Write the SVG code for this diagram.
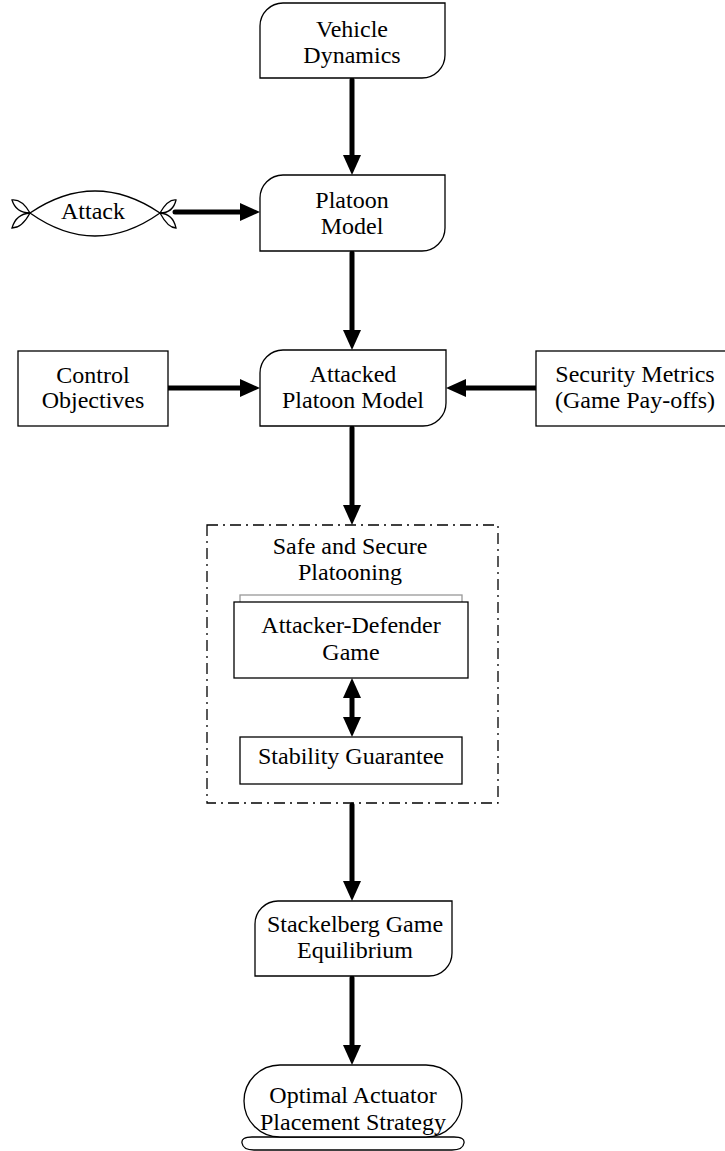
<svg xmlns="http://www.w3.org/2000/svg" width="725" height="1151" viewBox="0 0 725 1151" font-family="'Liberation Serif', 'Times New Roman', serif">
  <style>
    .box { fill: #fff; stroke: #000; stroke-width: 1.3; }
    .lbl { font-size: 24px; fill: #000; text-anchor: middle; }
    .wire { stroke: #000; stroke-width: 5; fill: none; stroke-linecap: round; }
    .frame { fill: none; stroke: #000; stroke-width: 1.3; stroke-dasharray: 11 5 2 5; }
  </style>
  <defs>
    <!-- arrowhead: tip sits 10px beyond the line end -->
    <marker id="head" markerUnits="userSpaceOnUse" markerWidth="20" markerHeight="18" refX="10" refY="9" orient="auto-start-reverse">
      <path d="M0,0 L20,9 L0,18 Z" fill="#000"/>
    </marker>
  </defs>
  <rect width="725" height="1151" fill="#fff"/>

  <!-- connectors -->
  <g id="connectors">
    <line class="wire" x1="352" y1="80" x2="352" y2="165" marker-end="url(#head)"/>
    <line class="wire" x1="352" y1="253" x2="352" y2="340" marker-end="url(#head)"/>
    <line class="wire" x1="175" y1="212" x2="250" y2="212" marker-end="url(#head)"/>
    <line class="wire" x1="168" y1="388" x2="250" y2="388" marker-end="url(#head)"/>
    <line class="wire" x1="536" y1="388" x2="456" y2="388" marker-end="url(#head)"/>
    <line class="wire" x1="352" y1="428" x2="352" y2="515" marker-end="url(#head)"/>
    <line class="wire" x1="352" y1="688" x2="352" y2="727" marker-start="url(#head)" marker-end="url(#head)"/>
    <line class="wire" x1="352" y1="805" x2="352" y2="891" marker-end="url(#head)"/>
    <line class="wire" x1="352" y1="978" x2="352" y2="1055" marker-end="url(#head)"/>
  </g>

  <g id="vehicle-dynamics">
    <path class="box" d="M283,3 H445 V55 A23,23 0 0 1 422,78 H260 V26 A23,23 0 0 1 283,3 Z"/>
    <text class="lbl" font-family="Liberation Serif, serif" x="352" y="37">Vehicle</text>
    <text class="lbl" font-family="Liberation Serif, serif" x="352" y="63">Dynamics</text>
  </g>

  <g id="attack">
    <path class="box" d="M30,213 Q95,169 160,213 Q95,259 30,213 Z"/>
    <path class="box" d="M30,213 Q22,199 12,200 Q16,213 30,213 Z"/>
    <path class="box" d="M30,213 Q22,228 12,228 Q16,214 30,213 Z"/>
    <path class="box" d="M160,213 Q168,199 176,200 Q173,213 160,213 Z"/>
    <path class="box" d="M160,213 Q168,228 176,228 Q173,214 160,213 Z"/>
    <text class="lbl" font-family="Liberation Serif, serif" x="93" y="219" font-size="22">Attack</text>
  </g>

  <g id="platoon-model">
    <path class="box" d="M283,175 H445 V228 A23,23 0 0 1 422,251 H260 V198 A23,23 0 0 1 283,175 Z"/>
    <text class="lbl" font-family="Liberation Serif, serif" x="352" y="208">Platoon</text>
    <text class="lbl" font-family="Liberation Serif, serif" x="352" y="234">Model</text>
  </g>

  <g id="control-objectives">
    <rect class="box" x="18" y="351" width="150" height="75"/>
    <text class="lbl" font-family="Liberation Serif, serif" x="93" y="383">Control</text>
    <text class="lbl" font-family="Liberation Serif, serif" x="93" y="408">Objectives</text>
  </g>

  <g id="attacked-platoon-model">
    <path class="box" d="M283,350 H446 V403 A23,23 0 0 1 423,426 H260 V373 A23,23 0 0 1 283,350 Z"/>
    <text class="lbl" font-family="Liberation Serif, serif" x="353" y="382">Attacked</text>
    <text class="lbl" font-family="Liberation Serif, serif" x="353" y="408">Platoon Model</text>
  </g>

  <g id="security-metrics">
    <rect class="box" x="536" y="351" width="200" height="75"/>
    <text class="lbl" font-family="Liberation Serif, serif" x="635" y="382">Security Metrics</text>
    <text class="lbl" font-family="Liberation Serif, serif" x="635" y="408">(Game Pay-offs)</text>
  </g>

  <g id="safe-secure-platooning">
    <rect class="frame" x="207" y="525" width="291" height="278"/>
    <text class="lbl" font-family="Liberation Serif, serif" x="350" y="554">Safe and Secure</text>
    <text class="lbl" font-family="Liberation Serif, serif" x="350" y="580">Platooning</text>
  </g>

  <g id="attacker-defender-game">
    <rect x="240" y="595" width="222" height="20" fill="#fff" stroke="#999" stroke-width="1.3"/>
    <rect class="box" x="234" y="602" width="234" height="76"/>
    <text class="lbl" font-family="Liberation Serif, serif" x="351" y="633">Attacker-Defender</text>
    <text class="lbl" font-family="Liberation Serif, serif" x="351" y="660">Game</text>
  </g>

  <g id="stability-guarantee">
    <rect class="box" x="240" y="737" width="222" height="47"/>
    <text class="lbl" font-family="Liberation Serif, serif" x="351" y="764">Stability Guarantee</text>
  </g>

  <g id="stackelberg-equilibrium">
    <path class="box" d="M278,901 H452 V953 A23,23 0 0 1 429,976 H255 V924 A23,23 0 0 1 278,901 Z"/>
    <text class="lbl" font-family="Liberation Serif, serif" x="355" y="932">Stackelberg Game</text>
    <text class="lbl" font-family="Liberation Serif, serif" x="355" y="958">Equilibrium</text>
  </g>

  <g id="optimal-actuator-placement">
    <path class="box" d="M252,1137 Q241,1137 242,1143 Q243,1150 254,1150 H452 Q463,1150 464,1143 Q465,1137 454,1137 Z"/>
    <rect class="box" x="244" y="1065" width="218" height="72" rx="36" ry="36"/>
    <text class="lbl" font-family="Liberation Serif, serif" x="353" y="1103">Optimal Actuator</text>
    <text class="lbl" font-family="Liberation Serif, serif" x="353" y="1130">Placement Strategy</text>
  </g>
</svg>
